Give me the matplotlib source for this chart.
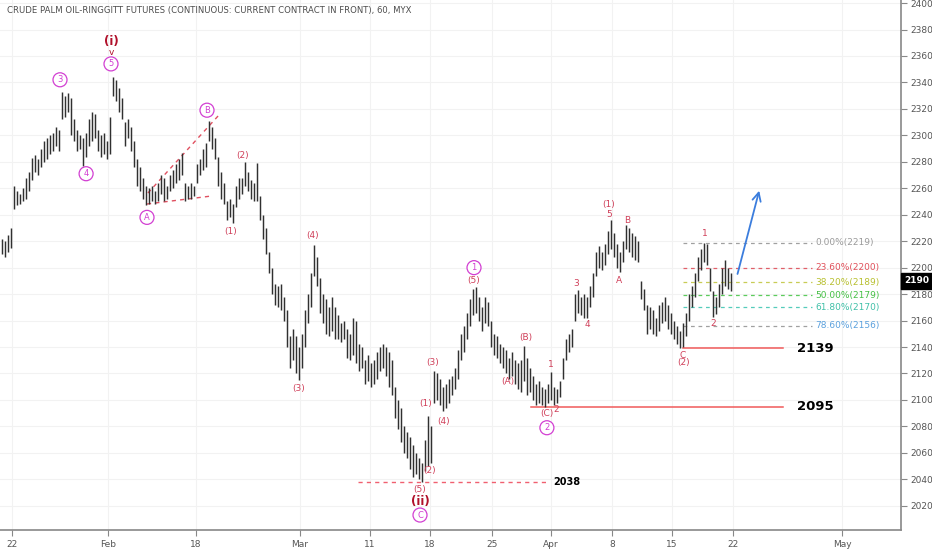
import matplotlib
matplotlib.use("Agg")
import matplotlib.pyplot as plt

# hourly bars (one bar every ~3 px)
highs = [2222, 2220, 2225, 2230, 2262, 2258, 2256, 2260, 2268, 2272,
         2283, 2285, 2282, 2290, 2296, 2298, 2300, 2302, 2306, 2304,
         2333, 2330, 2332, 2328, 2312, 2304, 2300, 2298, 2302, 2312,
         2318, 2316, 2304, 2300, 2302, 2296, 2314, 2344, 2342, 2336,
         2328, 2310, 2312, 2306, 2296, 2282, 2276, 2268, 2262, 2260,
         2262, 2258, 2264, 2270, 2268, 2262, 2270, 2274, 2278, 2282,
         2287, 2264, 2262, 2264, 2262, 2278, 2282, 2290, 2294, 2311,
         2306, 2298, 2284, 2272, 2264, 2250, 2252, 2248, 2262, 2268,
         2268, 2280, 2272, 2266, 2264, 2279, 2254, 2240, 2230, 2212,
         2200, 2188, 2186, 2188, 2178, 2168, 2148, 2154, 2148, 2140,
         2150, 2168, 2180, 2196, 2217, 2208, 2192, 2180, 2176, 2170,
         2178, 2170, 2164, 2158, 2160, 2154, 2150, 2162, 2160, 2142,
         2140, 2130, 2134, 2128, 2130, 2136, 2140, 2142, 2140, 2136,
         2130, 2110, 2100, 2094, 2080, 2076, 2072, 2066, 2060, 2056,
         2052, 2070, 2088, 2080, 2122, 2120, 2116, 2110, 2112, 2116,
         2118, 2124, 2138, 2150, 2156, 2166, 2176, 2184, 2185, 2178,
         2170, 2178, 2174, 2160, 2150, 2148, 2142, 2140, 2138, 2132,
         2136, 2130, 2128, 2130, 2141, 2132, 2124, 2118, 2112, 2114,
         2110, 2108, 2112, 2121, 2110, 2108, 2114, 2132, 2146, 2150,
         2154, 2180, 2183, 2178, 2180, 2178, 2186, 2196, 2212, 2216,
         2212, 2218, 2228, 2236, 2226, 2218, 2212, 2220, 2232, 2230,
         2226, 2224, 2220, 2190, 2184, 2172, 2170, 2168, 2162, 2172,
         2174, 2178, 2172, 2166, 2160, 2156, 2152, 2158, 2166, 2180,
         2186, 2196, 2208, 2214, 2219, 2218, 2200, 2182, 2178, 2188,
         2200, 2206, 2200, 2196]
lows = [2210, 2208, 2212, 2215, 2244, 2247, 2248, 2250, 2252, 2258,
        2266, 2272, 2270, 2276, 2280, 2282, 2286, 2288, 2292, 2288,
        2312, 2314, 2318, 2300, 2296, 2288, 2290, 2277, 2284, 2292,
        2296, 2298, 2288, 2284, 2286, 2282, 2286, 2330, 2326, 2318,
        2312, 2292, 2298, 2288, 2276, 2262, 2258, 2252, 2247, 2248,
        2250, 2248, 2250, 2256, 2250, 2252, 2258, 2260, 2264, 2266,
        2270, 2250, 2252, 2252, 2254, 2264, 2270, 2274, 2276, 2296,
        2290, 2282, 2262, 2252, 2248, 2236, 2238, 2234, 2246, 2252,
        2256, 2262, 2258, 2252, 2250, 2250, 2236, 2222, 2210, 2196,
        2180, 2172, 2170, 2168, 2160, 2140, 2124, 2130, 2120, 2115,
        2124, 2140, 2158, 2170, 2194, 2186, 2166, 2158, 2150, 2148,
        2152, 2146, 2146, 2144, 2146, 2132, 2130, 2134, 2128, 2122,
        2124, 2112, 2114, 2110, 2112, 2116, 2122, 2124, 2118, 2110,
        2104, 2086, 2078, 2068, 2060, 2056, 2048, 2042, 2044, 2040,
        2038, 2046, 2050, 2052, 2098, 2100, 2096, 2092, 2094, 2098,
        2104, 2108, 2116, 2130, 2136, 2146, 2156, 2164, 2166, 2160,
        2152, 2158, 2156, 2140, 2134, 2132, 2128, 2124, 2120, 2116,
        2118, 2112, 2108, 2106, 2114, 2104, 2106, 2100, 2096, 2098,
        2096, 2095, 2098, 2100, 2096, 2098, 2102, 2116, 2130, 2136,
        2140, 2160, 2166, 2164, 2162, 2162, 2170, 2178, 2194, 2200,
        2198, 2202, 2210, 2214, 2208, 2200, 2197, 2204, 2214, 2212,
        2208, 2206, 2204, 2176, 2168, 2150, 2154, 2150, 2148, 2152,
        2158, 2160, 2154, 2150, 2146, 2142, 2139, 2140, 2148, 2160,
        2170, 2178, 2190, 2198, 2204, 2202, 2182, 2163, 2165, 2170,
        2180, 2186, 2184, 2182]

price_ticks = list(range(2020, 2401, 20))
date_pos = [3.5, 35.5, 64.8, 99.5, 122.8, 142.8, 163.5, 183.2, 203.5, 223.5, 243.8, 280.2]
date_labels = ['22', 'Feb', '18', 'Mar', '11', '18', '25', 'Apr', '8', '15', '22', 'May']

fib_pct = ['0.00%', '23.60%', '38.20%', '50.00%', '61.80%', '78.60%']
fib_price = [2219, 2200, 2189, 2179, 2170, 2156]
fib_line_col = ['#a0a0a0', '#e0606a', '#c8cc55', '#5ccc5c', '#55ccbb', '#a0a0a0']
fib_text_col = ['#9a9a9a', '#e0505a', '#b8c030', '#45c045', '#40c0a8', '#5aa0dd']

support = [2139, 2095]
support_start = [227.2, 176.5]
low_2038 = 2038
last_price = 2190

circled = [('3', 19.5, 2342), ('4', 28.2, 2271), ('5', 36.5, 2354), ('A', 48.5, 2238),
           ('B', 68.5, 2319), ('1', 157.5, 2200), ('C', 139.5, 2013), ('2', 181.8, 2079)]
paren = [('(2)', 80.5, 2285), ('(1)', 76.5, 2227), ('(4)', 103.8, 2224), ('(3)', 99.2, 2109),
         ('(5)', 157.5, 2190.5), ('(3)', 143.8, 2128), ('(1)', 141.5, 2097), ('(4)', 147.5, 2084),
         ('(2)', 142.8, 2047), ('(5)', 139.5, 2032.5), ('(B)', 174.8, 2147), ('(A)', 168.8, 2114),
         ('(C)', 181.8, 2089.5), ('(1)', 202.5, 2248), ('(2)', 227.2, 2128)]
small = [('1', 183.2, 2126.5), ('2', 184.8, 2093), ('3', 191.5, 2188), ('4', 195.2, 2157),
         ('5', 202.5, 2240.5), ('B', 208.5, 2236), ('A', 205.8, 2190), ('1', 234.5, 2226),
         ('2', 237.2, 2158), ('C', 227.2, 2133.5)]

mag = '#d23fd2'
red = '#d0405a'
dark = '#b0102a'

fig = plt.figure(figsize=(9.32, 5.5), dpi=100)
ax = fig.add_axes([0, 20 / 550, 901 / 932, 530 / 550])
ax.set_xlim(-0.5, 299.83)
ax.set_ylim(2001.7, 2402.3)

for p in price_ticks:
    ax.axhline(p, color='#f2f2f2', lw=0.8, zorder=0)
for d in date_pos:
    ax.axvline(d, color='#f2f2f2', lw=0.8, zorder=0)

ax.vlines(range(len(highs)), lows, highs, color='#303030', lw=1.05, zorder=3)

# triangle B
ax.plot([48.8, 72.5], [2256.4, 2315.4], color='#e05060', lw=1, ls=(0, (3, 3)), zorder=2)
ax.plot([48.5, 70.2], [2248.1, 2254.2], color='#e05060', lw=1, ls=(0, (3, 3)), zorder=2)

# support lines
for lvl, x0 in zip(support, support_start):
    ax.plot([x0, 260.5], [lvl, lvl], color='#f05a5a', lw=1.1, zorder=2)
    ax.text(265.2, lvl, str(lvl), fontsize=9.5, fontweight='bold', va='center', ha='left')
ax.plot([118.8, 182.2], [low_2038, low_2038], color='#f06070', lw=1, ls=(0, (3, 3)), zorder=2)
ax.text(183.8, low_2038, str(low_2038), fontsize=7, fontweight='bold', va='center', ha='left')

# fib retracement
for pct, fp, lc, tc in zip(fib_pct, fib_price, fib_line_col, fib_text_col):
    ax.plot([227.2, 270.2], [fp, fp], color=lc, lw=0.9, ls=(0, (3, 3)), zorder=2)
    ax.text(271.2, fp, '%s(%d)' % (pct, fp), color=tc, fontsize=6.5, va='center', ha='left')

# expected move
ax.annotate('', xy=(252.8, 2260.2), xytext=(245.1, 2193.2),
            arrowprops=dict(arrowstyle='->,head_length=0.6,head_width=0.3', color='#3b7ddd', lw=1.3))

for t, x, y in circled:
    ax.text(x, y, t, color=mag, fontsize=6, ha='center', va='center', zorder=5,
            bbox=dict(boxstyle='circle,pad=0.3', fc='white', ec=mag, lw=0.9))
for t, x, y in paren:
    ax.text(x, y, t, color=red, fontsize=6.5, ha='center', va='center', zorder=5)
for t, x, y in small:
    ax.text(x, y, t, color=red, fontsize=6.5, ha='center', va='center', zorder=5)
ax.text(36.5, 2370.6, '(i)', color=dark, fontsize=8.5, fontweight='bold', ha='center', va='center')
ax.text(36.5, 2362.3, 'v', color=dark, fontsize=6.5, ha='center', va='center')
ax.text(139.5, 2023, '(ii)', color=dark, fontsize=8.5, fontweight='bold', ha='center', va='center')

ax.text(7 / 901, 1 - 10 / 530, 'CRUDE PALM OIL-RINGGITT FUTURES (CONTINUOUS: CURRENT CONTRACT IN FRONT), 60, MYX',
        transform=ax.transAxes, fontsize=6.1, color='#4d4d4d', ha='left', va='center')

ax.yaxis.tick_right()
ax.set_yticks(price_ticks)
ax.set_xticks(date_pos)
ax.set_xticklabels(date_labels)
ax.tick_params(axis='y', length=4, color='#888888', labelsize=6.5, labelcolor='#555555', pad=3)
ax.tick_params(axis='x', length=4, color='#888888', labelsize=6.5, labelcolor='#555555', pad=3)
for s in ['top', 'left']:
    ax.spines[s].set_visible(False)
for s in ['right', 'bottom']:
    ax.spines[s].set_color('#888888')
    ax.spines[s].set_linewidth(1.2)

ax.text(1.004, last_price, str(last_price), transform=ax.get_yaxis_transform(), fontsize=6.5,
        fontweight='bold', color='white', va='center', ha='left',
        bbox=dict(boxstyle='square,pad=0.35', fc='black', ec='black'))

fig.savefig('out.png', dpi=100)
